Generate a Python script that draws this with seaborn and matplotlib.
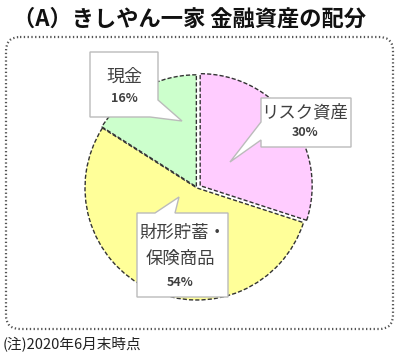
import matplotlib
matplotlib.use("Agg")
import matplotlib.pyplot as plt
import seaborn as sns
from matplotlib.patches import FancyBboxPatch, Polygon

# ---- data ----
categories = ["リスク資産", "財形貯蓄・\n保険商品", "現金"]
shares = [30, 54, 16]
pct_labels = ["30%", "54%", "16%"]
slice_colors = ["#FFCCFF", "#FFFF99", "#CCFFCC"]
explode = [0.035, 0.0, 0.012]
title = "（A）きしやん一家 金融資産の配分"
note = "(注)2020年6月末時点"

sns.set_theme(style="white")
plt.rcParams["font.family"] = ["Noto Sans CJK JP", "DejaVu Sans"]
palette = sns.color_palette(slice_colors)

W, H = 400, 361
fig = plt.figure(figsize=(W / 100, H / 100), dpi=100)
fig.patch.set_facecolor("white")

# background layout axes (pixel coords, y down)
bg = fig.add_axes([0, 0, 1, 1], zorder=0)
bg.set_xlim(0, W)
bg.set_ylim(H, 0)
bg.axis("off")

bg.text(13, 19, title, fontsize=16, fontweight="bold", color="#111111",
        ha="left", va="center")
bg.add_patch(FancyBboxPatch((6, 37), 387, 292,
                            boxstyle="round,pad=0,rounding_size=14",
                            fc="none", ec="#555555", lw=1.6,
                            ls=(0, (0.6, 1.1))))
bg.text(3, 345, note, fontsize=10.5, color="#222222", ha="left", va="center")

# pie axes
cx, cy, r = 197, 188, 112
half = 1.2 * r
pie_ax = fig.add_axes([(cx - half) / W, (H - cy - half) / H,
                       2 * half / W, 2 * half / H], zorder=1)
wedges, _ = pie_ax.pie(shares, colors=palette, startangle=90, counterclock=False,
                       explode=explode, radius=1.0,
                       wedgeprops=dict(edgecolor="#333333", linewidth=1.0,
                                       linestyle=(0, (3, 1.5))))
pie_ax.set_xlim(-1.2, 1.2)
pie_ax.set_ylim(-1.2, 1.2)
pie_ax.set_aspect("equal")
pie_ax.axis("off")

# overlay for callouts
top = fig.add_axes([0, 0, 1, 1], zorder=3)
top.set_xlim(0, W)
top.set_ylim(H, 0)
top.axis("off")
top.patch.set_alpha(0)


def callout(pts):
    top.add_patch(Polygon(pts, closed=True, fc="white", ec="#BBBBBB", lw=1.0,
                          joinstyle="miter"))


# 現金 callout
callout([(90, 52), (158, 52), (158, 100), (182, 121), (150, 117), (90, 117)])
top.text(124, 77, "現金", fontsize=13, color="#404040", ha="center", va="center")
top.text(124, 98, pct_labels[2], fontsize=9, fontweight="bold", color="#404040",
         ha="center", va="center")

# リスク資産 callout
callout([(261, 98), (351, 98), (351, 147), (261, 147), (261, 140), (230, 162),
         (261, 122)])
top.text(305, 112, categories[0], fontsize=12.5, color="#404040",
         ha="center", va="center")
top.text(305, 133, pct_labels[0], fontsize=9, fontweight="bold", color="#404040",
         ha="center", va="center")

# 財形貯蓄・保険商品 callout
callout([(137, 213), (155, 213), (179, 197), (175, 213), (228, 213), (228, 297),
         (137, 297)])
lines = categories[1].split("\n")
top.text(183, 233, lines[0], fontsize=12.5, color="#404040", ha="center", va="center")
top.text(180, 259, lines[1], fontsize=12.5, color="#404040", ha="center", va="center")
top.text(180, 283, pct_labels[1], fontsize=9, fontweight="bold", color="#404040",
         ha="center", va="center")

fig.savefig("out.png", dpi=100, facecolor="white")
